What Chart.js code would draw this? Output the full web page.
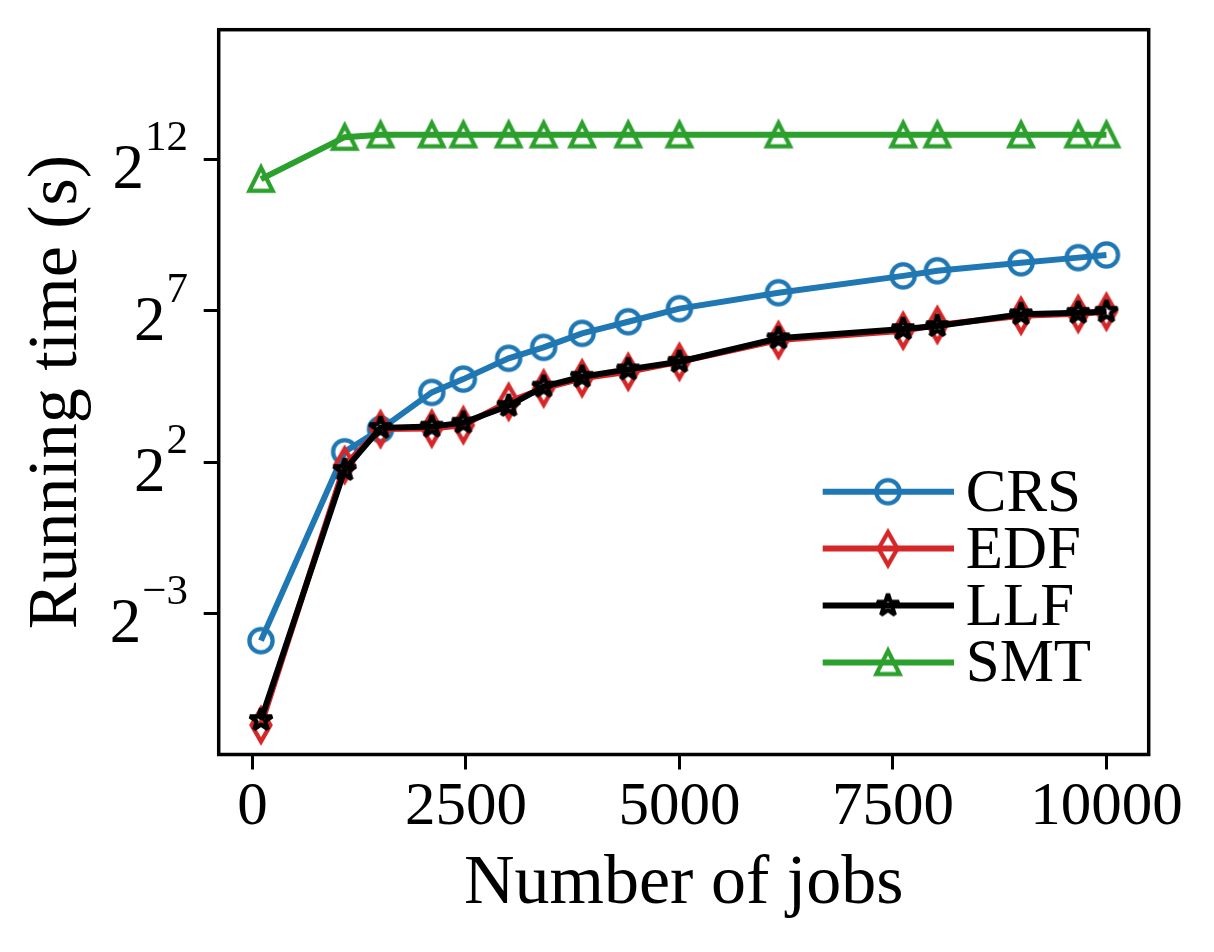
<!DOCTYPE html>
<html>
<head>
<meta charset="utf-8">
<script src="https://cdn.jsdelivr.net/npm/chart.js@4.4.1/dist/chart.umd.min.js"></script>
<style>
html, body { margin: 0; padding: 0; background: #ffffff; }
#wrap { width: 1214px; height: 952px; position: relative; }
</style>
</head>
<body>
<div id="wrap"><canvas id="c"></canvas></div>
<script>
// ---- data ----
const jobs    = [100, 1080, 1500, 2100, 2470, 3000, 3410, 3860, 4400, 5000, 6160, 7620, 8020, 9000, 9670, 10000];
const crsTime = [0.067, 5.06, 8.46, 19.7, 26.7, 43.0, 55.3, 76.1, 99.3, 134, 193, 284, 319, 383, 431, 458];
const edfTime = [0.0097, 3.73, 8.5, 8.6, 9.3, 15.9, 21.6, 27.2, 31.6, 39.7, 65.3, 80.9, 92.4, 114, 119, 125];
const llfTime = [0.0109, 3.34, 8.75, 9.0, 9.85, 14.5, 22.5, 28.2, 33.4, 39.7, 68.1, 84, 90, 118, 122, 125];
const smtTime = [2600, 6800, 7200, 7200, 7200, 7200, 7200, 7200, 7200, 7200, 7200, 7200, 7200, 7200, 7200, 7200];
const seriesNames = ['CRS', 'EDF', 'LLF', 'SMT'];
const xTicks = [0, 2500, 5000, 7500, 10000];
const yTickExponents = [-3, 2, 7, 12];
const xTitle = 'Number of jobs';
const yTitle = 'Running time (s)';

// ---- styling ----
const FONT = "'Liberation Serif', 'Times New Roman', serif";
const COLORS = ['#1f77b4', '#d62728', '#000000', '#2ca02c'];

function makeMarker(kind, color) {
  const c = document.createElement('canvas');
  c.width = 54; c.height = 54;
  const g = c.getContext('2d');
  g.translate(27, 27);
  g.strokeStyle = color;
  g.lineWidth = 4.3;
  g.beginPath();
  const s = 11.6;
  if (kind === 'circle') {
    g.arc(0, 0, s, 0, Math.PI * 2);
  } else if (kind === 'triangle') {
    g.lineJoin = 'miter';
    g.moveTo(0, -s); g.lineTo(-s, s); g.lineTo(s, s); g.closePath();
  } else if (kind === 'thinDiamond') {
    g.lineJoin = 'miter';
    const h = 16.4, w = 9.4;
    g.moveTo(0, -h); g.lineTo(w, 0); g.lineTo(0, h); g.lineTo(-w, 0); g.closePath();
  } else if (kind === 'star') {
    g.lineJoin = 'bevel';
    const ro = s, ri = s * 0.381966;
    for (let i = 0; i < 10; i++) {
      const r = i % 2 === 0 ? ro : ri;
      const a = -Math.PI / 2 + i * Math.PI / 5;
      const px = r * Math.cos(a), py = r * Math.sin(a);
      if (i === 0) g.moveTo(px, py); else g.lineTo(px, py);
    }
    g.closePath();
  }
  g.stroke();
  return c;
}

const markers = [
  makeMarker('circle', COLORS[0]),
  makeMarker('thinDiamond', COLORS[1]),
  makeMarker('star', COLORS[2]),
  makeMarker('triangle', COLORS[3])
];

const seriesValues = [crsTime, edfTime, llfTime, smtTime];
const datasets = seriesNames.map((name, i) => ({
  label: name,
  data: jobs.map((x, k) => ({ x: x, y: seriesValues[i][k] })),
  borderColor: COLORS[i],
  backgroundColor: 'rgba(0,0,0,0)',
  borderWidth: 6,
  pointStyle: markers[i],
  pointRadius: 12,
  pointHoverRadius: 12,
  tension: 0,
  fill: false,
  order: 4 - i
}));

const decorPlugin = {
  id: 'decor',
  afterDraw(chart) {
    const ctx = chart.ctx;
    const area = chart.chartArea;
    ctx.save();
    // frame (all four spines)
    ctx.strokeStyle = '#000';
    ctx.lineWidth = 3.5;
    ctx.strokeRect(area.left, area.top, area.right - area.left, area.bottom - area.top);

    // y tick labels as 2^n
    const ys = chart.scales.y;
    ctx.fillStyle = '#000';
    ctx.textAlign = 'right';
    ctx.textBaseline = 'alphabetic';
    ys.ticks.forEach(t => {
      const e = Math.round(Math.log2(t.value));
      const py = ys.getPixelForValue(t.value);
      const sup = (e < 0 ? '\u2212' : '') + Math.abs(e);
      const rightX = 188;
      ctx.font = '43px ' + FONT;
      const supW = ctx.measureText(sup).width;
      ctx.fillText(sup, rightX, py - 9);
      ctx.font = '63px ' + FONT;
      ctx.fillText('2', rightX - supW - 1, py + 29);
    });

    // legend
    const rowY0 = 491.7, rowStep = 56.9;
    const lx0 = 822.7, lx1 = 954, mx = 888, tx = 965.7;
    chart.data.datasets.forEach((ds, i) => {
      const y = rowY0 + i * rowStep;
      ctx.strokeStyle = ds.borderColor;
      ctx.lineWidth = 6;
      ctx.beginPath();
      ctx.moveTo(lx0, y); ctx.lineTo(lx1, y);
      ctx.stroke();
      const m = ds.pointStyle;
      ctx.drawImage(m, mx - m.width / 2, y - m.height / 2);
      ctx.fillStyle = '#000';
      ctx.font = '61px ' + FONT;
      ctx.textAlign = 'left';
      ctx.textBaseline = 'middle';
      ctx.fillText(ds.label, tx, y + 3);
    });
    ctx.restore();
  }
};

new Chart(document.getElementById('c'), {
  type: 'line',
  data: { datasets: datasets },
  plugins: [decorPlugin],
  options: {
    responsive: true,
    maintainAspectRatio: false,
    animation: false,
    events: [],
    layout: { padding: { top: 29.7, right: 65.3, left: 0, bottom: 0 } },
    plugins: { legend: { display: false }, tooltip: { enabled: false } },
    scales: {
      x: {
        type: 'linear',
        min: -395,
        max: 10495,
        afterBuildTicks: (s) => { s.ticks = xTicks.map(v => ({ value: v })); },
        afterFit: (s) => { s.height = 952 - 754.5; },
        ticks: {
          color: '#000',
          font: { family: FONT, size: 61 },
          padding: 2,
          maxRotation: 0,
          autoSkip: false,
          callback: (v) => String(v)
        },
        grid: { display: true, drawOnChartArea: false, drawTicks: true, tickLength: 15, lineWidth: 3, color: '#000' },
        border: { display: false },
        title: {
          display: true,
          text: xTitle,
          color: '#000',
          font: { family: FONT, size: 70 },
          padding: { top: 0, bottom: 25 }
        }
      },
      y: {
        type: 'logarithmic',
        min: Math.pow(2, -7.66),
        max: Math.pow(2, 16.28),
        afterBuildTicks: (s) => { s.ticks = yTickExponents.map(e => ({ value: Math.pow(2, e) })); },
        afterFit: (s) => { s.width = 218.7; },
        ticks: {
          color: 'rgba(0,0,0,0)',
          font: { family: FONT, size: 8 },
          padding: 0,
          autoSkip: false,
          callback: (v) => String(Math.round(Math.log2(v)))
        },
        grid: { display: true, drawOnChartArea: false, drawTicks: true, tickLength: 15, lineWidth: 3, color: '#000' },
        border: { display: false },
        title: {
          display: true,
          text: yTitle,
          color: '#000',
          font: { family: FONT, size: 70 },
          padding: { top: 16, bottom: 0 }
        }
      }
    }
  }
});
</script>
</body>
</html>
